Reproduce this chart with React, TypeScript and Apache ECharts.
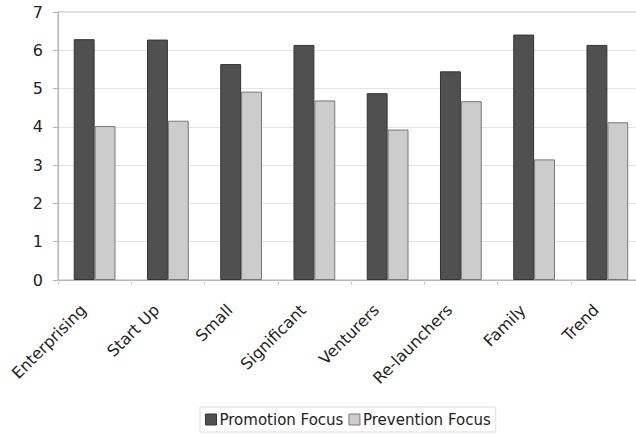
import React, { useEffect, useRef } from "react";
import * as echarts from "echarts";

const categories = ["Enterprising", "Start Up", "Small", "Significant", "Venturers", "Re-launchers", "Family", "Trend"];
const promotionFocus = [6.29, 6.28, 5.64, 6.14, 4.88, 5.45, 6.41, 6.14];
const preventionFocus = [4.02, 4.16, 4.92, 4.69, 3.93, 4.67, 3.15, 4.12];
const yTicks = { min: 0, max: 7, interval: 1 };

const FONT = "DejaVu Sans";

export default function App() {
  const ref = useRef<HTMLDivElement>(null);
  useEffect(() => {
    document.body.style.margin = "0";
    const chart = echarts.init(ref.current!, undefined, { renderer: "svg" });
    chart.setOption({
      animation: false,
      backgroundColor: "#ffffff",
      textStyle: { fontFamily: FONT },
      grid: {
        left: 58,
        top: 12,
        right: -8,
        bottom: 154,
        show: true,
        borderColor: "#b4b4b4",
        borderWidth: 1,
        outerBoundsMode: "none",
        containLabel: false,
      },
      legend: {
        left: 200,
        top: 407,
        itemWidth: 11,
        itemHeight: 11,
        itemGap: 5,
        padding: [5, 5, 5, 5],
        borderColor: "#dddddd",
        borderWidth: 1,
        icon: "rect",
        textStyle: { fontFamily: FONT, fontSize: 15, color: "#222", padding: [0, 0, 0, -2] },
        data: [
          { name: "Promotion Focus", itemStyle: { color: "#505050", borderColor: "#333", borderWidth: 1 } },
          { name: "Prevention Focus", itemStyle: { color: "#cccccc", borderColor: "#777", borderWidth: 1 } },
        ],
      },
      xAxis: {
        type: "category",
        data: categories,
        axisLine: { show: true, lineStyle: { color: "#b4b4b4" } },
        axisTick: { show: true, length: 5, lineStyle: { color: "#d0d0d0" } },
        axisLabel: {
          rotate: 45,
          interval: 0,
          fontSize: 16,
          fontFamily: FONT,
          color: "#222",
          margin: 16,
          padding: [0, 16, 0, 0],
        },
      },
      yAxis: {
        type: "value",
        min: yTicks.min,
        max: yTicks.max,
        interval: yTicks.interval,
        axisLine: { show: true, lineStyle: { color: "#b4b4b4" } },
        axisTick: { show: true, length: 5, lineStyle: { color: "#b4b4b4" } },
        axisLabel: { fontSize: 16, fontFamily: FONT, color: "#222", margin: 15 },
        splitLine: { show: true, lineStyle: { color: "#e4e4e4" } },
      },
      series: [
        {
          name: "Promotion Focus",
          type: "bar",
          data: promotionFocus,
          barGap: "0%",
          barCategoryGap: "43%",
          itemStyle: { color: "#505050", borderColor: "#333333", borderWidth: 1 },
        },
        {
          name: "Prevention Focus",
          type: "bar",
          data: preventionFocus,
          barGap: "0%",
          barCategoryGap: "43%",
          itemStyle: { color: "#cccccc", borderColor: "#777777", borderWidth: 1 },
        },
      ],
    });
    return () => chart.dispose();
  }, []);
  return <div ref={ref} style={{ width: 636, height: 434 }} />;
}
